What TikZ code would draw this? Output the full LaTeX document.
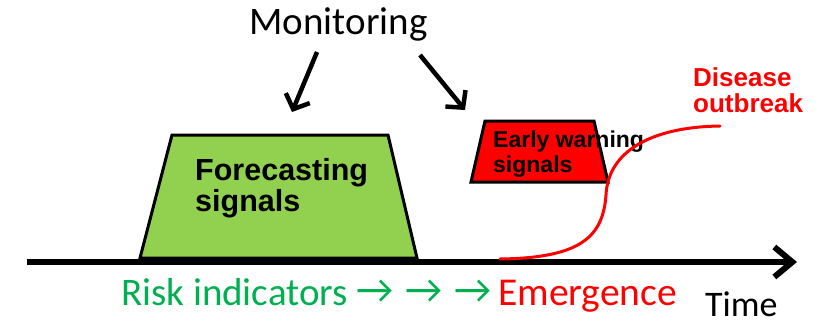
\documentclass[tikz,border=0pt]{standalone}
\usepackage{fontspec}
\setmainfont{Carlito}
\newfontfamily\boldsans{Liberation Sans}
\usetikzlibrary{arrows.meta}
\definecolor{fcgreen}{RGB}{146,208,80}
\definecolor{txtgreen}{RGB}{0,176,80}
\definecolor{alarmred}{RGB}{255,0,0}
\begin{document}
\begin{tikzpicture}[x=1pt,y=-1pt,
  timeaxis/.style={line width=6.5pt,-{Straight Barb[length=18pt,width=30pt,line width=6pt]}},
  pointer/.style={line width=4.5pt,-{Straight Barb[length=12pt,width=26pt,line width=4.5pt]}},
  signalbox/.style={draw=black,line width=3pt,line join=miter},
  boxtext/.style={inner sep=0pt,anchor=base west,align=left,font=\boldsans\bfseries},
  calibri/.style={inner sep=0pt,anchor=base west},
  flowarrow/.style={inner sep=0pt,anchor=center,text=txtgreen,font=\fontsize{41}{41}\selectfont}]
  \useasboundingbox (0,0) rectangle (828,321);

  % forecasting window (anchor on the baseline of the last line)
  \filldraw[signalbox,fill=fcgreen] (140,258) -- (172,135) -- (388,135) -- (417,258) -- cycle;
  \node[boxtext,font=\boldsans\bfseries\fontsize{30.5}{31}\selectfont] (fc) at (195,211) {Forecasting\\signals};

  % early warning window
  \filldraw[signalbox,fill=alarmred] (471,182) -- (485,121) -- (594,121) -- (608,182) -- cycle;
  \node[boxtext,font=\boldsans\bfseries\fontsize{23}{25}\selectfont] (ew) at (493,172) {Early warning\\signals};

  % time axis
  \coordinate (t0) at (27,262);
  \coordinate (t1) at (797,262);
  \draw[timeaxis] (t0) -- (t1);

  % outbreak curve
  \coordinate (c0) at (500,259);
  \coordinate (cm) at (606,195);
  \coordinate (c1) at (720,126);
  \draw[alarmred,line width=3pt,line cap=round] (c0) .. controls (582,258) and (603,236) .. (cm)
        .. controls (608,152) and (650,127) .. (c1);

  \node[inner sep=0pt,anchor=base west,align=left,text=alarmred,
        font=\boldsans\bfseries\fontsize{26}{26.5}\selectfont] (ob) at (693,113) {Disease\\outbreak};

  % monitoring
  \node[inner sep=0pt,anchor=base,font=\fontsize{39}{39}\selectfont] (mon) at (338.5,35) {Monitoring};
  \coordinate (m1) at (317,52);
  \coordinate (m2) at (420,55);
  \coordinate (f1) at (292,112);
  \coordinate (f2) at (465,110);
  \draw[pointer] (m1) -- (f1);
  \draw[pointer] (m2) -- (f2);

  % bottom line of labels
  \node[calibri,text=txtgreen,font=\fontsize{39}{39}\selectfont] (risk) at (121,305) {Risk indicators};
  \node[flowarrow] (a1) at (375,292) {→};
  \node[flowarrow] (a2) at (424,292) {→};
  \node[flowarrow] (a3) at (473,292) {→};
  \node[calibri,text=alarmred,font=\fontsize{39.5}{39.5}\selectfont] (em) at (498,305) {Emergence};
  \node[calibri,font=\fontsize{36}{36}\selectfont] (time) at (705,316) {Time};
\end{tikzpicture}
\end{document}
